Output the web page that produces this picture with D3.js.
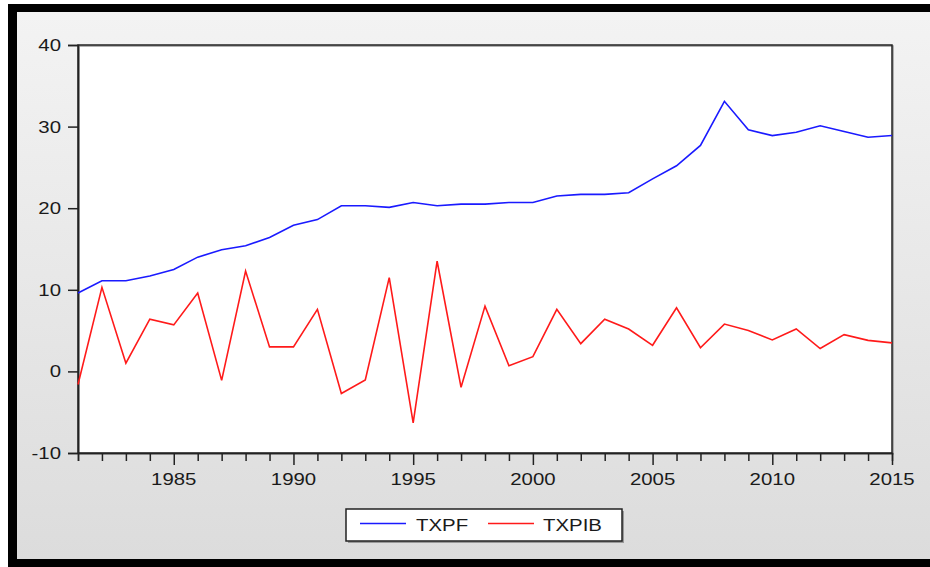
<!DOCTYPE html>
<html><head><meta charset="utf-8">
<script src="https://cdn.jsdelivr.net/npm/d3@7"></script>
<style>html,body{margin:0;padding:0;background:#fff;}svg{display:block;}</style>
</head><body>
<script>
const years = d3.range(1981, 2016);
const txpf = [9.6,11.1,11.1,11.7,12.5,14.0,14.9,15.4,16.4,17.9,18.6,20.3,20.3,20.1,20.7,20.3,20.5,20.5,20.7,20.7,21.5,21.7,21.7,21.9,23.6,25.2,27.7,33.1,29.6,28.9,29.3,30.1,29.4,28.7,28.9];
const txpib = [-1.6,10.3,1.0,6.4,5.7,9.6,-1.1,12.3,3.0,3.0,7.6,-2.7,-1.05,11.5,-6.3,13.5,-1.95,8.0,0.7,1.8,7.6,3.4,6.4,5.2,3.2,7.8,2.9,5.8,5.0,3.85,5.2,2.8,4.5,3.8,3.5];
const yTicks = [-10,0,10,20,30,40];
const xLabelYears = [1985,1990,1995,2000,2005,2010,2015];
const seriesNames = ["TXPF","TXPIB"];
const seriesColors = ["#1a1aff","#ff1a1a"];

const W = 930, H = 567;
const svg = d3.select("body").append("svg").attr("width", W).attr("height", H);
const defs = svg.append("defs");
const grad = defs.append("linearGradient").attr("id","bg").attr("x1",0).attr("y1",0).attr("x2",0).attr("y2",1);
grad.append("stop").attr("offset","0%").attr("stop-color","#f3f3f3");
grad.append("stop").attr("offset","100%").attr("stop-color","#dcdcdc");

svg.append("rect").attr("x",0).attr("y",0).attr("width",W).attr("height",H).attr("fill","#fff");
svg.append("rect").attr("x",8).attr("y",4).attr("width",W-8).attr("height",H-4).attr("fill","#000");
svg.append("rect").attr("x",17).attr("y",12).attr("width",W-17).attr("height",547).attr("fill","url(#bg)");

const L = 78, R = 892, T = 45, B = 453;
const x = d3.scaleLinear().domain([1981, 2015]).range([L, R]);
const y = d3.scaleLinear().domain([-10, 40]).range([B, T]);

svg.append("rect").attr("x",L).attr("y",T).attr("width",R-L).attr("height",B-T).attr("fill","#fff");

const sx = 1.2;
function label(g, px, py, txt, anchor){
  g.append("text").attr("transform",`translate(${px},${py}) scale(${sx},1)`)
   .attr("text-anchor",anchor).attr("font-family","Liberation Sans, Arial, sans-serif")
   .attr("font-size",17).attr("fill","#1a1a1a").text(txt);
}

// frame
svg.append("rect").attr("x",L+1).attr("y",T+1).attr("width",R-L).attr("height",B-T).attr("fill","none").attr("stroke","#999").attr("stroke-width",1.5);
svg.append("rect").attr("x",L).attr("y",T).attr("width",R-L).attr("height",B-T).attr("fill","none").attr("stroke","#222").attr("stroke-width",1.5);

// y axis
const yAxis = svg.append("g").attr("transform",`translate(${L},0)`)
  .call(d3.axisLeft(y).tickValues(yTicks).tickSize(10).tickFormat(""));
yAxis.select(".domain").attr("stroke","#222").attr("stroke-width",1.5);
yAxis.selectAll(".tick line").attr("stroke","#222").attr("stroke-width",1.5);
const yl = svg.append("g");
yTicks.forEach(v => label(yl, 61, y(v)+6, String(v), "end"));

// x axis: minor yearly ticks
const xMinor = svg.append("g").attr("transform",`translate(0,${B})`)
  .call(d3.axisBottom(x).tickValues(years.filter(v => v%5!==0)).tickSize(8).tickFormat(""));
xMinor.select(".domain").attr("stroke","#222").attr("stroke-width",1.5);
xMinor.selectAll(".tick line").attr("stroke","#222").attr("stroke-width",1.5);
const xMajor = svg.append("g").attr("transform",`translate(0,${B})`)
  .call(d3.axisBottom(x).tickValues(xLabelYears).tickSize(12).tickFormat(""));
xMajor.select(".domain").remove();
xMajor.selectAll(".tick line").attr("stroke","#222").attr("stroke-width",1.5);
const xl = svg.append("g");
xLabelYears.forEach(v => label(xl, x(v), 485, String(v), "middle"));

// lines
const line = d3.line().x((d,i) => x(years[i])).y(d => y(d));
[txpf, txpib].forEach((s, k) => {
  svg.append("path").datum(s).attr("d", line).attr("fill","none")
    .attr("stroke", seriesColors[k]).attr("stroke-width",1.6).attr("stroke-linejoin","miter");
});

// legend
const lg = svg.append("g");
lg.append("rect").attr("x",348).attr("y",511).attr("width",276).attr("height",32).attr("fill","#999");
lg.append("rect").attr("x",346).attr("y",509).attr("width",276).attr("height",32).attr("fill","#fff").attr("stroke","#222").attr("stroke-width",1.5);
const legX = [[360,406,416],[488,534,543]];
seriesNames.forEach((n,k) => {
  lg.append("line").attr("x1",legX[k][0]).attr("x2",legX[k][1]).attr("y1",523.5).attr("y2",523.5)
    .attr("stroke",seriesColors[k]).attr("stroke-width",1.6);
  label(lg, legX[k][2], 530.5, n, "start");
});
</script>
</body></html>
